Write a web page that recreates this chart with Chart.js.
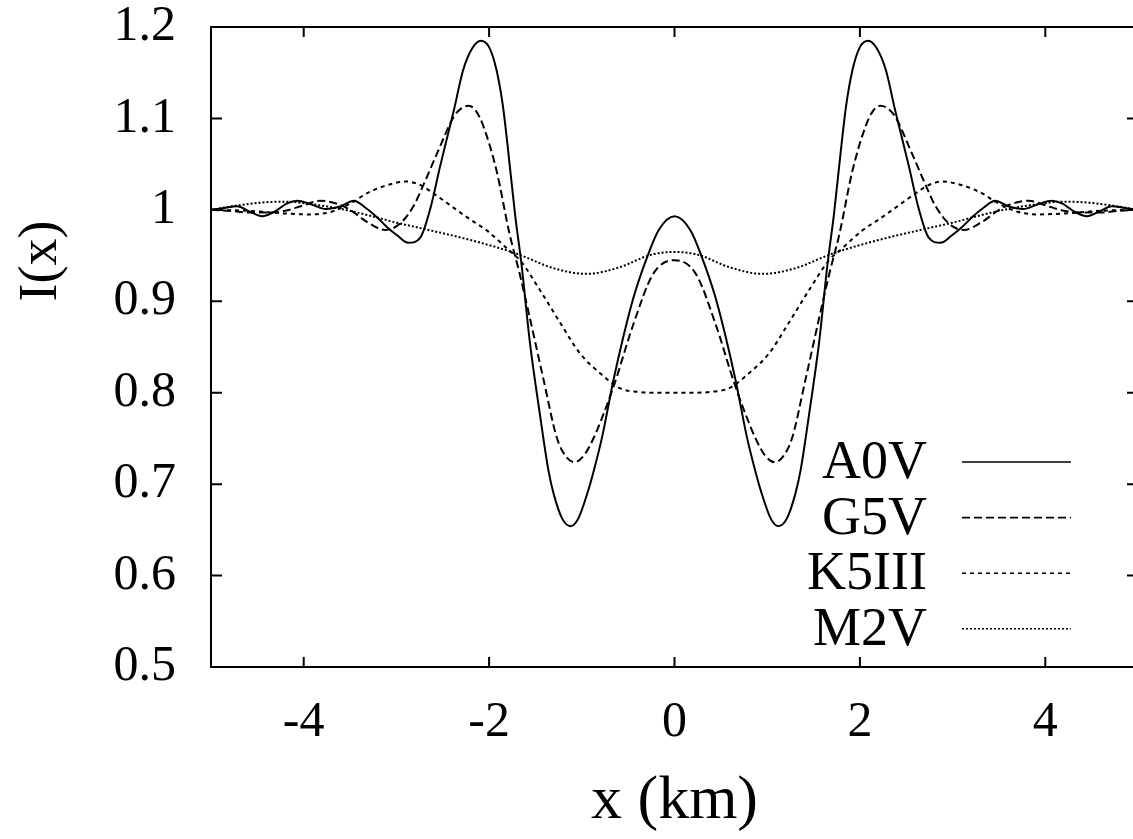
<!DOCTYPE html>
<html>
<head>
<meta charset="utf-8">
<script src="https://cdn.jsdelivr.net/npm/chart.js@4.4.0/dist/chart.umd.min.js"></script>
<style>
  html, body { margin: 0; padding: 0; background: #fff; overflow: hidden; }
  #wrap { width: 1140px; height: 839px; }
</style>
</head>
<body>
<div id="wrap"><canvas id="c" width="1140" height="839"></canvas></div>
<script>
// values
const xTicks = [-4, -2, 0, 2, 4];
const yTicks = [0.5, 0.6, 0.7, 0.8, 0.9, 1.0, 1.1, 1.2];

const xA0V = [-5.00, -4.86, -4.72, -4.58, -4.45, -4.30, -4.18, -4.07, -3.92, -3.76, -3.60, -3.46, -3.33, -3.21, -3.10, -2.99, -2.87, -2.74, -2.63, -2.53, -2.38, -2.28, -2.18, -2.09, -2.00, -1.92, -1.85, -1.80, -1.72, -1.65, -1.56, -1.45, -1.36, -1.30, -1.21, -1.12, -1.04, -0.94, -0.87, -0.78, -0.66, -0.55, -0.44, -0.30, -0.17, 0,
  0.17, 0.30, 0.44, 0.55, 0.66, 0.78, 0.87, 0.94, 1.04, 1.12, 1.21, 1.30, 1.36, 1.45, 1.56, 1.65, 1.72, 1.80, 1.85, 1.92, 2.00, 2.09, 2.18, 2.28, 2.38, 2.53, 2.63, 2.74, 2.87, 2.99, 3.10, 3.21, 3.33, 3.46, 3.60, 3.76, 3.92, 4.07, 4.18, 4.30, 4.45, 4.58, 4.72, 4.86, 5.00];
const yA0V = [1.000, 1.002, 1.004, 0.998, 0.993, 0.999, 1.007, 1.010, 1.006, 1.001, 1.004, 1.010, 1.002, 0.992, 0.981, 0.972, 0.964, 0.970, 1.003, 1.047, 1.109, 1.153, 1.177, 1.185, 1.178, 1.153, 1.113, 1.070, 0.995, 0.940, 0.855, 0.775, 0.715, 0.688, 0.662, 0.654, 0.662, 0.690, 0.715, 0.752, 0.813, 0.862, 0.905, 0.947, 0.978, 0.993,
  0.978, 0.947, 0.905, 0.862, 0.813, 0.752, 0.715, 0.690, 0.662, 0.654, 0.662, 0.688, 0.715, 0.775, 0.855, 0.940, 0.995, 1.070, 1.113, 1.153, 1.178, 1.185, 1.177, 1.153, 1.109, 1.047, 1.003, 0.970, 0.964, 0.972, 0.981, 0.992, 1.002, 1.010, 1.004, 1.001, 1.006, 1.010, 1.007, 0.999, 0.993, 0.998, 1.004, 1.002, 1.000];

const xG5V = [-5.00, -4.80, -4.60, -4.40, -4.20, -4.00, -3.82, -3.65, -3.50, -3.32, -3.12, -2.96, -2.81, -2.74, -2.56, -2.38, -2.30, -2.22, -2.14, -2.06, -1.92, -1.78, -1.67, -1.57, -1.41, -1.27, -1.17, -1.08, -0.98, -0.87, -0.66, -0.44, -0.23, 0,
  0.23, 0.44, 0.66, 0.87, 0.98, 1.08, 1.17, 1.27, 1.41, 1.57, 1.67, 1.78, 1.92, 2.06, 2.14, 2.22, 2.30, 2.38, 2.56, 2.74, 2.81, 2.96, 3.12, 3.32, 3.50, 3.65, 3.82, 4.00, 4.20, 4.40, 4.60, 4.80, 5.00];
const yG5V = [1.000, 0.999, 0.997, 0.997, 0.999, 1.005, 1.010, 1.007, 1.000, 0.987, 0.978, 0.985, 1.005, 1.020, 1.062, 1.102, 1.111, 1.114, 1.108, 1.091, 1.043, 0.974, 0.930, 0.886, 0.813, 0.751, 0.730, 0.724, 0.731, 0.751, 0.806, 0.876, 0.930, 0.945,
  0.930, 0.876, 0.806, 0.751, 0.731, 0.724, 0.730, 0.751, 0.813, 0.886, 0.930, 0.974, 1.043, 1.091, 1.108, 1.114, 1.111, 1.102, 1.062, 1.020, 1.005, 0.985, 0.978, 0.987, 1.000, 1.007, 1.010, 1.005, 0.999, 0.997, 0.997, 0.999, 1.000];

const xK5III = [-5.00, -4.60, -4.20, -3.93, -3.70, -3.46, -3.32, -3.10, -2.89, -2.74, -2.60, -2.42, -2.24, -2.02, -1.81, -1.66, -1.45, -1.23, -1.02, -0.80, -0.59, -0.40, -0.20, 0,
  0.20, 0.40, 0.59, 0.80, 1.02, 1.23, 1.45, 1.66, 1.81, 2.02, 2.24, 2.42, 2.60, 2.74, 2.89, 3.10, 3.32, 3.46, 3.70, 3.93, 4.20, 4.60, 5.00];
const yK5III = [1.000, 0.999, 0.996, 0.995, 0.998, 1.009, 1.018, 1.027, 1.031, 1.027, 1.018, 1.005, 0.992, 0.977, 0.958, 0.944, 0.912, 0.876, 0.843, 0.821, 0.805, 0.801, 0.800, 0.800,
  0.800, 0.801, 0.805, 0.821, 0.843, 0.876, 0.912, 0.944, 0.958, 0.977, 0.992, 1.005, 1.018, 1.027, 1.031, 1.027, 1.018, 1.009, 0.998, 0.995, 0.996, 0.999, 1.000];

const xM2V = [-5.00, -4.70, -4.45, -4.20, -3.90, -3.60, -3.30, -3.00, -2.74, -2.20, -1.70, -1.30, -0.95, -0.60, -0.25, 0,
  0.25, 0.60, 0.95, 1.30, 1.70, 2.20, 2.74, 3.00, 3.30, 3.60, 3.90, 4.20, 4.45, 4.70, 5.00];
const yM2V = [1.000, 1.005, 1.008, 1.009, 1.006, 1.001, 0.994, 0.986, 0.980, 0.967, 0.952, 0.936, 0.930, 0.937, 0.951, 0.954,
  0.951, 0.937, 0.930, 0.936, 0.952, 0.967, 0.980, 0.986, 0.994, 1.001, 1.006, 1.009, 1.008, 1.005, 1.000];

const yLabel = 'I(x)';
const FONT = 'Liberation Serif, Times New Roman, serif';

function pts(xs, ys) {
  return xs.map((x, i) => ({ x: x, y: ys[i] }));
}

function line(label, xs, ys, dash) {
  return {
    label: label,
    data: pts(xs, ys),
    borderColor: '#000',
    borderWidth: 2,
    borderDash: dash,
    pointRadius: 0,
    fill: false,
    cubicInterpolationMode: 'monotone'
  };
}

// gnuplot style box with inward ticks on all four sides, plus the y label
const framePlugin = {
  id: 'frame',
  afterDraw(chart) {
    const ctx = chart.ctx;
    const a = chart.chartArea;
    const xs = chart.scales.x, ys = chart.scales.y;
    ctx.save();
    ctx.strokeStyle = '#000';
    ctx.lineWidth = 2;
    ctx.strokeRect(a.left, a.top, a.right - a.left, a.bottom - a.top);
    ctx.beginPath();
    xTicks.forEach(v => {
      const px = xs.getPixelForValue(v);
      ctx.moveTo(px, a.bottom); ctx.lineTo(px, a.bottom - 10);
      ctx.moveTo(px, a.top); ctx.lineTo(px, a.top + 10);
    });
    yTicks.forEach(v => {
      const py = ys.getPixelForValue(v);
      ctx.moveTo(a.left, py); ctx.lineTo(a.left + 11, py);
      ctx.moveTo(a.right, py); ctx.lineTo(a.right - 11, py);
    });
    ctx.stroke();

    // gnuplot puts the y label a bit above the middle
    ctx.translate(42, a.top + 234);
    ctx.rotate(-Math.PI / 2);
    ctx.font = '54px ' + FONT;
    ctx.fillStyle = '#000';
    ctx.textAlign = 'center';
    ctx.textBaseline = 'middle';
    ctx.fillText(yLabel, 0, 0);
    ctx.restore();
  }
};

// key in the lower right, text first then the line sample
const keyPlugin = {
  id: 'key',
  afterDraw(chart) {
    const ctx = chart.ctx;
    const a = chart.chartArea;
    ctx.save();
    ctx.font = '54px ' + FONT;
    ctx.fillStyle = '#000';
    ctx.textAlign = 'right';
    ctx.textBaseline = 'middle';
    chart.data.datasets.forEach((ds, i) => {
      const y = a.bottom - 205 + i * 55.6;
      ctx.fillText(ds.label, a.right - 211, y + 2);
      ctx.strokeStyle = '#000';
      ctx.lineWidth = 1.6;
      ctx.setLineDash(ds.borderDash || []);
      ctx.beginPath();
      ctx.moveTo(a.right - 176, y);
      ctx.lineTo(a.right - 67, y);
      ctx.stroke();
    });
    ctx.restore();
  }
};

new Chart(document.getElementById('c'), {
  type: 'line',
  data: {
    datasets: [
      line('A0V', xA0V, yA0V, []),
      line('G5V', xG5V, yG5V, [8, 4]),
      line('K5III', xK5III, yK5III, [4, 4]),
      line('M2V', xM2V, yM2V, [2, 2])
    ]
  },
  options: {
    responsive: false,
    animation: false,
    layout: { padding: { top: 27, right: 2, left: 0, bottom: 0 } },
    plugins: { legend: { display: false }, tooltip: { enabled: false } },
    scales: {
      x: {
        type: 'linear',
        min: -5,
        max: 5,
        grid: { display: false, drawTicks: false },
        border: { display: false },
        afterBuildTicks: s => { s.ticks = xTicks.map(v => ({ value: v })); },
        afterFit: s => { s.height = 172; s.paddingLeft = 0; s.paddingRight = 0; },
        ticks: { color: '#000', font: { family: FONT, size: 50 }, padding: 26, maxRotation: 0 },
        title: { display: true, text: 'x (km)', color: '#000', font: { family: FONT, size: 62 }, padding: 0 }
      },
      y: {
        type: 'linear',
        min: 0.5,
        max: 1.2,
        grid: { display: false, drawTicks: false },
        border: { display: false },
        afterBuildTicks: s => { s.ticks = yTicks.map(v => ({ value: v })); },
        afterFit: s => { s.width = 211; s.paddingTop = 0; s.paddingBottom = 0; },
        ticks: {
          color: '#000',
          font: { family: FONT, size: 50 },
          padding: 35,
          callback: v => String(+v.toFixed(1))
        }
      }
    }
  },
  plugins: [framePlugin, keyPlugin]
});
</script>
</body>
</html>
